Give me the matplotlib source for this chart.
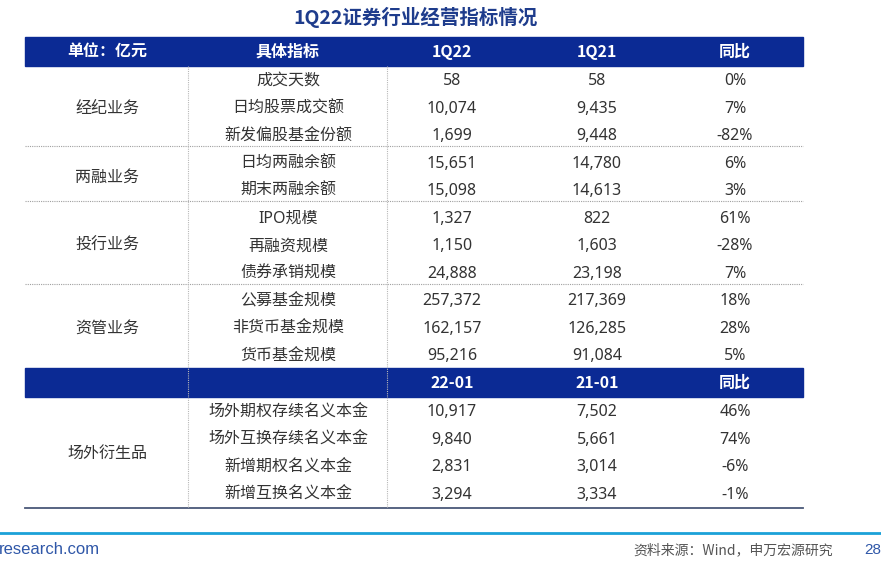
import matplotlib.pyplot as plt

plt.rcParams['font.family'] = ['Noto Sans', 'Noto Sans CJK SC', 'DejaVu Sans']
BOLD_FONT = ['Noto Sans CJK SC', 'DejaVu Sans']

# Table data
title = "1Q22证券行业经营指标情况"
header1 = ["单位：亿元", "具体指标", "1Q22", "1Q21", "同比"]
header2 = ["", "", "22-01", "21-01", "同比"]

groups = ["经纪业务", "两融业务", "投行业务", "资管业务"]
group_sizes = [3, 2, 3, 3]
indicators = ["成交天数", "日均股票成交额", "新发偏股基金份额",
              "日均两融余额", "期末两融余额",
              "IPO规模", "再融资规模", "债券承销规模",
              "公募基金规模", "非货币基金规模", "货币基金规模"]
val_1q22 = ["58", "10,074", "1,699", "15,651", "15,098", "1,327", "1,150",
            "24,888", "257,372", "162,157", "95,216"]
val_1q21 = ["58", "9,435", "9,448", "14,780", "14,613", "822", "1,603",
            "23,198", "217,369", "126,285", "91,084"]
yoy = ["0%", "7%", "-82%", "6%", "3%", "61%", "-28%", "7%", "18%", "28%", "5%"]

otc_group = "场外衍生品"
otc_indicators = ["场外期权存续名义本金", "场外互换存续名义本金", "新增期权名义本金", "新增互换名义本金"]
otc_2201 = ["10,917", "9,840", "2,831", "3,294"]
otc_2101 = ["7,502", "5,661", "3,014", "3,334"]
otc_yoy = ["46%", "74%", "-6%", "-1%"]

source = "资料来源：Wind，申万宏源研究"
site = "research.com"
page = "28"

# layout (pixel coords)
navy = "#0B2A94"
txt = "#333333"
left, right = 25, 803
col_edges = [left, 188, 387, 520, 670, right]
col_centers = [107, 288, 452, 597, 735]
row_h = 27.5
head_top, head_h = 37, 28.5
dy = 2  # text sits a little below the row middle

fig = plt.figure(figsize=(8.81, 5.74), dpi=100)
ax = fig.add_axes([0, 0, 1, 1])
ax.set_xlim(0, 881)
ax.set_ylim(574, 0)
ax.axis("off")

ax.text(416, 17, title, ha="center", va="center", fontsize=14,
        fontweight="bold", color="#1E3C8C", family=BOLD_FONT)


def header(y0, labels):
    ax.add_patch(plt.Rectangle((left, y0), right - left, head_h, color=navy, zorder=1))
    for cx, lab in zip(col_centers, labels):
        ax.text(cx, y0 + head_h / 2 + 0.5, lab, ha="center", va="center",
                fontsize=11.5, fontweight="bold", color="white", zorder=3,
                family=BOLD_FONT)


def row(y, ind, a, b, c):
    for cx, s in zip(col_centers[1:], [ind, a, b, c]):
        ax.text(cx, y + dy, s, ha="center", va="center", fontsize=11.5, color=txt)


header(head_top, header1)
y = head_top + head_h
k = 0
for gi, (g, n) in enumerate(zip(groups, group_sizes)):
    for j in range(n):
        row(y + row_h * (j + 0.5), indicators[k], val_1q22[k], val_1q21[k], yoy[k])
        k += 1
    ax.text(col_centers[0], y + row_h * n / 2 + dy, g, ha="center", va="center",
            fontsize=11.5, color=txt)
    y += row_h * n
    if gi < len(groups) - 1:
        ax.plot([left, right], [y - 2, y - 2], color="#a0a0a0", lw=0.8, ls=(0, (1, 1)))

header(y, header2)
y += head_h
for j in range(len(otc_indicators)):
    row(y + row_h * (j + 0.5), otc_indicators[j], otc_2201[j], otc_2101[j], otc_yoy[j])
ax.text(col_centers[0], y + row_h * len(otc_indicators) / 2 + dy, otc_group,
        ha="center", va="center", fontsize=11.5, color=txt)
y += row_h * len(otc_indicators) + 1
ax.plot([left, right], [y, y], color="#4A5878", lw=1.3)

# vertical dotted separators
for x in col_edges[1:3]:
    ax.plot([x, x], [head_top + head_h, y], color="#b8b8b8", lw=0.8,
            ls=(0, (1, 1)), zorder=2)

# footer
ax.plot([0, 881], [533, 533], color="#1BA1D8", lw=2)
ax.text(-1, 550, site, ha="left", va="center", fontsize=12,
        family=["Liberation Sans", "DejaVu Sans"], color="#2F57A8")
ax.text(833, 550, source, ha="right", va="center", fontsize=10,
        family=["Noto Sans CJK SC", "DejaVu Sans"], color="#555555")
ax.text(864, 550, page, ha="left", va="center", fontsize=11,
        family=["Liberation Sans", "DejaVu Sans"], color="#2F57A8")

fig.savefig("out.png", dpi=100, facecolor="white")
